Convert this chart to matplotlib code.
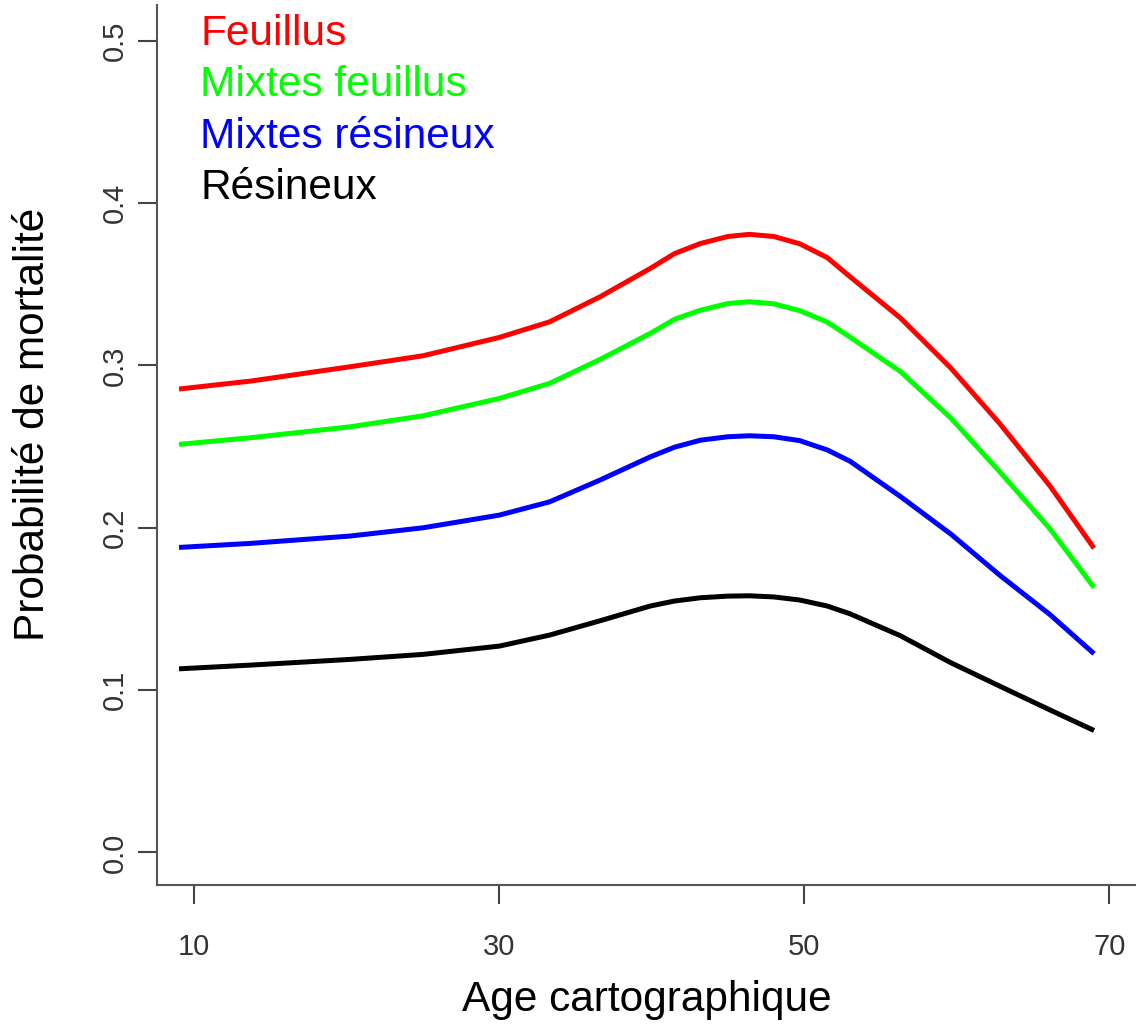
import matplotlib
matplotlib.use("Agg")
import matplotlib.pyplot as plt

# age (x) and mortality probability
age = [9, 13.7, 20.2, 25, 30, 33.3, 36.6, 39.9, 41.5, 43.2, 45, 46.4, 48, 49.7, 51.5, 53.0,
       56.3, 59.6, 62.8, 66.1, 69]
feuillus = [0.2855, 0.2904, 0.2992, 0.306, 0.3173, 0.3269, 0.3423, 0.3598, 0.369, 0.3752, 0.3795,
            0.3808, 0.3795, 0.3750, 0.3665, 0.3547, 0.3293, 0.2985, 0.2644, 0.2259, 0.1874]
mixtes_feuillus = [0.2514, 0.2555, 0.2622, 0.269, 0.2797, 0.289, 0.3037, 0.3198, 0.3285, 0.3341,
                   0.3382, 0.3393, 0.3380, 0.3338, 0.3268, 0.3175, 0.2963, 0.2677, 0.2347,
                   0.1995, 0.1632]
mixtes_resineux = [0.1879, 0.1904, 0.1949, 0.200, 0.2078, 0.216, 0.2294, 0.2437, 0.2497, 0.254,
                   0.2561, 0.2567, 0.2561, 0.2537, 0.248, 0.241, 0.2193, 0.1962, 0.1709,
                   0.1466, 0.1224]
resineux = [0.1131, 0.1154, 0.1189, 0.122, 0.1271, 0.1339, 0.1427, 0.1518, 0.1549, 0.1569,
            0.1579, 0.1581, 0.1574, 0.1555, 0.1518, 0.147, 0.1335, 0.1169, 0.1025, 0.0878, 0.0751]

series = [feuillus, mixtes_feuillus, mixtes_resineux, resineux]
names = ["Feuillus", "Mixtes feuillus", "Mixtes résineux", "Résineux"]
colors = ["#ff0000", "#00ff00", "#0000ff", "#000000"]

xticks = [10, 30, 50, 70]
yticks = [0.0, 0.1, 0.2, 0.3, 0.4, 0.5]

font = ["Liberation Sans", "DejaVu Sans"]

fig = plt.figure(figsize=(11.36, 10.28), dpi=100)
ax = fig.add_axes([0.1382, 0.1391, 1 - 0.1382, 0.9951 - 0.1391])

for ys, c in zip(series, colors):
    ax.plot(age, ys, color=c, lw=3.6, solid_capstyle="butt", solid_joinstyle="round")

ax.set_xlim(7.554, 71.75)
ax.set_ylim(-0.0201, 0.5221)

for s in ["top", "right"]:
    ax.spines[s].set_visible(False)
for s in ["left", "bottom"]:
    ax.spines[s].set_color("#555555")
    ax.spines[s].set_linewidth(1.5)

ax.set_xticks(xticks)
ax.set_xticklabels([str(t) for t in xticks], family=font, fontsize=21, color="#333333")
ax.set_yticks(yticks)
ax.set_yticklabels(["%.1f" % t for t in yticks], family=font, fontsize=21, color="#333333",
                   rotation=90, va="center")
ax.tick_params(axis="x", length=13.5, width=1.5, color="#444444", pad=21)
ax.tick_params(axis="y", length=13.5, width=1.5, color="#444444", pad=7)

ax.set_xlabel("Age cartographique", family=font, fontsize=30.5, va="center")
ax.xaxis.set_label_coords(0.5, -0.1307)
ax.set_ylabel("Probabilité de mortalité", family=font, fontsize=30.5)
ax.yaxis.set_label_coords(-0.106, 0.523)

for i, (n, c) in enumerate(zip(names, colors)):
    ax.text(0.044, 0.955 - i * 0.0585, n, color=c, family=font, fontsize=30.5,
            transform=ax.transAxes, va="baseline", ha="left")

fig.savefig("out.png", dpi=100)
